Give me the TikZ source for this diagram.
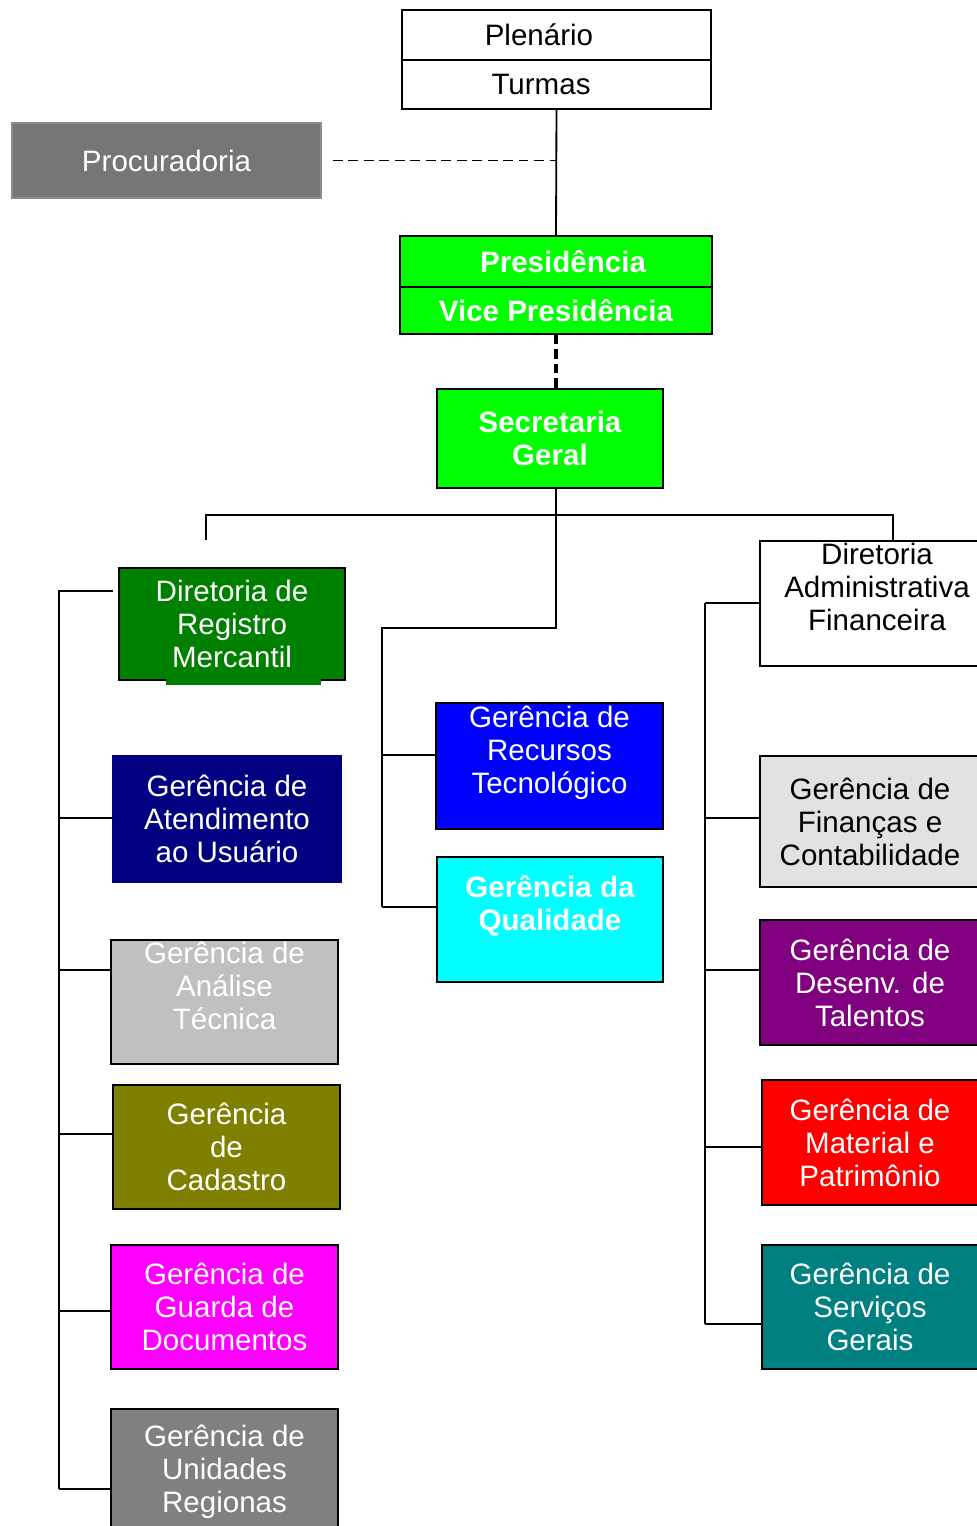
\documentclass[tikz,border=0pt]{standalone}
\usepackage{fontspec}
\setmainfont{Liberation Sans}
\usetikzlibrary{calc}
\usetikzlibrary{positioning}
\newcommand\pxu[0]{0.025cm}
\definecolor{verde}{HTML}{00FF00}
\definecolor{verdeesc}{HTML}{008000}
\definecolor{marinho}{HTML}{000080}
\definecolor{azul}{HTML}{0000FF}
\definecolor{ciano}{HTML}{00FFFF}
\definecolor{rosa}{HTML}{FF00FF}
\definecolor{vermelho}{HTML}{FF0000}
\definecolor{prata}{HTML}{C0C0C0}
\definecolor{oliva}{HTML}{808000}
\definecolor{cinza}{HTML}{808080}
\definecolor{cinzaclaro}{HTML}{E2E2E2}
\definecolor{roxo}{HTML}{800080}
\definecolor{petroleo}{HTML}{008080}
\definecolor{procfill}{HTML}{767676}
\definecolor{procedge}{HTML}{8C8C8C}

\begin{document}
\begin{tikzpicture}[x=0.025cm, y=-0.025cm,
  box/.style={draw, line width=1.3pt, outer sep=0pt, inner sep=0pt, align=center,
    text=white, font=\fontsize{21}{23.5}\selectfont},
  sz/.style 2 args={minimum width=#1*\pxu, minimum height=#2*\pxu},
  strong/.style={font=\fontsize{21}{23.5}\selectfont\bfseries},
  link/.style={line width=1.3pt}]
\useasboundingbox (0,0) rectangle (976,1526);

% top
\node[box, sz={309}{50}, text=black] (plen) at (556.5,35) {Plenário\hspace*{25pt}};
\node[box, sz={309}{49}, text=black, below=0pt of plen] (turm) {Turmas\hspace*{22pt}};
\node[box, sz={309}{75}, fill=procfill, draw=procedge] (proc) at (166.5,160.5) {Procuradoria};
\node[box, strong, sz={312}{51}, fill=verde] (pres) at (556,261.5) {\hspace*{10pt}Presidência};
\node[box, strong, sz={312}{47}, fill=verde, below=0pt of pres] (vice) {Vice Presidência};
\node[box, strong, sz={226}{99}, fill=verde] (sec) at (550,438.5) {Secretaria\\Geral};

% left column
\node[box, sz={226}{112}, fill=verdeesc] (drm) at (232,624) {Diretoria de\\Registro\\Mercantil};
\fill[verdeesc] (166,678) rectangle (321,685);
\node[box, sz={228}{126}, fill=marinho, draw=marinho] (aten) at (227,819) {Gerência de\\Atendimento\\ao Usuário};
\node[box, sz={227}{124}, fill=prata] (anal) at (224.5,1002) {Gerência de\\Análise\\Técnica\\\mbox{}};
\node[box, sz={227}{124}, fill=oliva] (cad) at (226.5,1147) {Gerência\\de\\Cadastro};
\node[box, sz={227}{124}, fill=rosa] (guar) at (224.5,1307) {Gerência de\\Guarda de\\Documentos};
\node[box, sz={227}{126}, fill=cinza] (unid) at (224.5,1472) {Gerência de\\Unidades\\Regionas};

% middle column
\node[box, sz={227}{126}, fill=azul] (rec) at (549.5,766) {Gerência de\\Recursos\\Tecnológico\\\mbox{}};
\node[box, strong, sz={226}{125}, fill=ciano] (qual) at (550,919.5) {Gerência da\\Qualidade\\\mbox{}};

% right column
\node[box, sz={234}{125}, text=black] (dadm) at (877,603.5) {Diretoria\\Administrativa\\Financeira\\\mbox{}};
\node[box, sz={220}{131}, fill=cinzaclaro, text=black] (fin) at (870,821.5) {Gerência de\\Finanças e\\Contabilidade};
\node[box, sz={220}{125}, fill=roxo] (des) at (870,982.5) {Gerência de\\Desenv. de\\Talentos};
\node[box, sz={216}{125}, fill=vermelho] (mat) at (870,1142.5) {Gerência de\\Material e\\Patrimônio};
\node[box, sz={216}{124}, fill=petroleo] (serv) at (870,1307) {Gerência de\\Serviços\\Gerais};

\coordinate (hub) at (556,515);
\coordinate (lstub) at (206,540);
\coordinate (rdrop) at (893,515);
\coordinate (mid) at (382,628);

\draw[link] (turm.south) -- (pres.north);
\draw[link, dash pattern=on 7pt off 4pt] ($(proc.east)+(12,0)$) -- (proc.east -| turm.south);
\draw[line width=2.2pt, dash pattern=on 7pt off 3.5pt] (vice.south) -- (vice.south |- sec.north);
\draw[link] (hub |- sec.south) -- (hub);
\draw[link] (lstub) |- (rdrop) -- (rdrop |- dadm.north);
\draw[link] (hub) -- (hub |- mid) -- (mid) -- (382,907);
\draw[link] (382,755) -- (rec.west |- 0,755);
\draw[link] (382,907) -- (qual.west |- 0,907);

\draw[link] (113,591) -- (59,591) -- (59,1489);
\foreach \n/\y in {aten/818, anal/970, cad/1134, guar/1311, unid/1489}
  \draw[link] (59,\y) -- (\n.west |- 0,\y);

\draw[link] (705,603) -- (705,1324);
\foreach \n/\y in {dadm/603, fin/818, des/970, mat/1147, serv/1324}
  \draw[link] (705,\y) -- (\n.west |- 0,\y);
\end{tikzpicture}
\end{document}
